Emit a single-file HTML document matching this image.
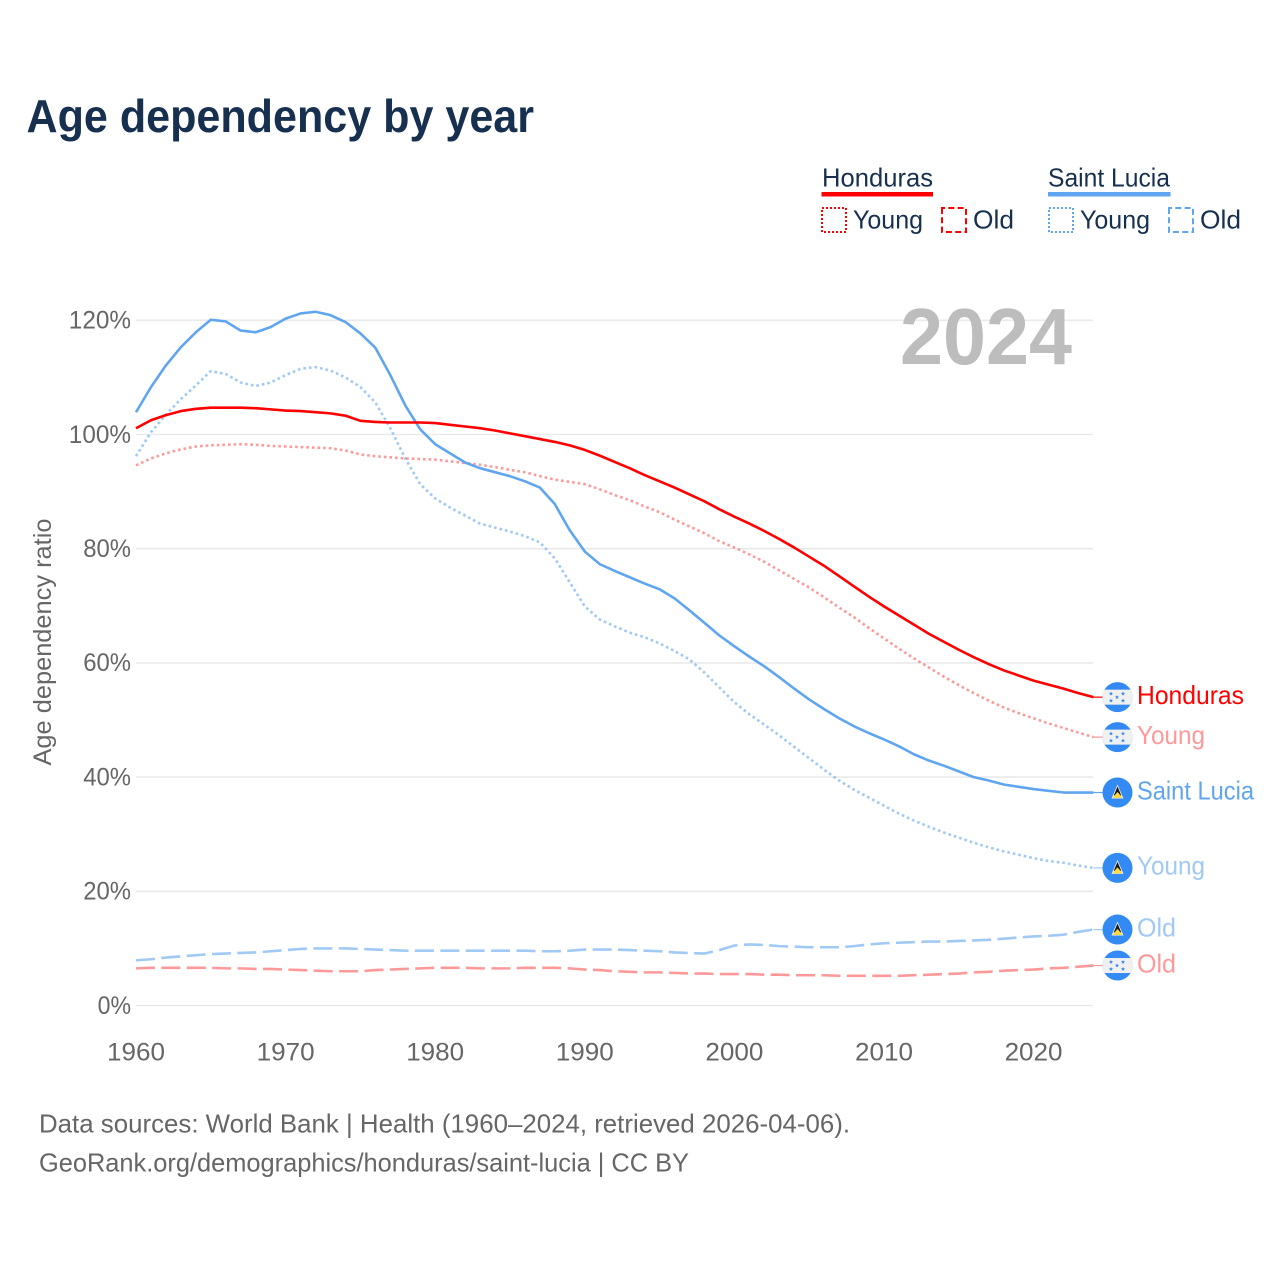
<!DOCTYPE html>
<html lang="en">
<head>
<meta charset="utf-8">
<title>Age dependency by year</title>
<style>
html,body{margin:0;padding:0;background:#fff}
svg{display:block}
text{font-family:"Liberation Sans",sans-serif}
</style>
</head>
<body>
<svg id="chart" xmlns="http://www.w3.org/2000/svg" width="1280" height="1280" viewBox="0 0 1280 1280">
  <rect width="1280" height="1280" fill="#fff"/>
  <text x="26.500" y="132" font-size="46" font-weight="bold" fill="#17304f" textLength="507.500" lengthAdjust="spacingAndGlyphs">Age dependency by year</text>

  <g>
    <g>
      <text x="822" y="186.500" font-size="26" fill="#17304f" textLength="111" lengthAdjust="spacingAndGlyphs">Honduras</text>
      <rect x="821.500" y="192" width="111.500" height="4.5" fill="#ff0000"/>
      <rect x="822" y="208" width="24" height="24" fill="none" stroke="#ff0000" stroke-width="2" stroke-dasharray="2 2"/>
      <text x="853" y="228.500" font-size="26" fill="#17304f" textLength="70" lengthAdjust="spacingAndGlyphs">Young</text>
      <rect x="942" y="208" width="24" height="24" fill="none" stroke="#ff0000" stroke-width="2" stroke-dasharray="6 3.3" stroke-dashoffset="3"/>
      <text x="973" y="228.500" font-size="26" fill="#17304f" textLength="41" lengthAdjust="spacingAndGlyphs">Old</text>
    </g>
    <g>
      <text x="1048" y="186.500" font-size="26" fill="#17304f" textLength="122" lengthAdjust="spacingAndGlyphs">Saint Lucia</text>
      <rect x="1048" y="192" width="122.500" height="4.5" fill="#60a5ef"/>
      <rect x="1049" y="208" width="24" height="24" fill="none" stroke="#60a5ef" stroke-width="2" stroke-dasharray="2 2"/>
      <text x="1080" y="228.500" font-size="26" fill="#17304f" textLength="70" lengthAdjust="spacingAndGlyphs">Young</text>
      <rect x="1169" y="208" width="24" height="24" fill="none" stroke="#60a5ef" stroke-width="2" stroke-dasharray="6 3.3" stroke-dashoffset="3"/>
      <text x="1200" y="228.500" font-size="26" fill="#17304f" textLength="41" lengthAdjust="spacingAndGlyphs">Old</text>
    </g>
  </g>

  <g id="grid"></g>
  <g id="yTicks"></g>
  <g id="xTicks"></g>

  <text x="986" y="364" font-size="80" font-weight="bold" fill="#bdbdbd" text-anchor="middle" textLength="172" lengthAdjust="spacingAndGlyphs">2024</text>
  <text transform="translate(51 642) rotate(-90)" font-size="25" fill="#666" text-anchor="middle" textLength="247" lengthAdjust="spacingAndGlyphs">Age dependency ratio</text>

  <g id="series"></g>
  <g id="endLabels"></g>

  <text x="39" y="1132.500" font-size="26" fill="#666" textLength="811" lengthAdjust="spacingAndGlyphs">Data sources: World Bank | Health (1960–2024, retrieved 2026-04-06).</text>
  <text x="39" y="1171.500" font-size="26" fill="#666" textLength="650" lengthAdjust="spacingAndGlyphs">GeoRank.org/demographics/honduras/saint-lucia | CC BY</text>
</svg>
<script>
const firstYear = 1960;
const yTickValues = [0, 20, 40, 60, 80, 100, 120];
const xTickValues = [1960, 1970, 1980, 1990, 2000, 2010, 2020];

const hondurasTotal = [
  101.1,102.5,103.4,104.1,104.5,104.7,104.7,104.7,104.6,104.4,
  104.2,104.1,103.9,103.7,103.3,102.4,102.2,102.1,102.1,102.1,
  102.0,101.7,101.4,101.1,100.7,100.2,99.7,99.2,98.7,98.1,
  97.3,96.3,95.2,94.1,92.9,91.8,90.7,89.5,88.3,86.9,
  85.6,84.4,83.1,81.7,80.2,78.6,77.0,75.2,73.4,71.6,
  69.9,68.3,66.7,65.1,63.7,62.3,61.0,59.8,58.7,57.8,
  56.9,56.2,55.5,54.7,54.0
];
const hondurasYoung = [
  94.6,95.8,96.7,97.4,97.9,98.1,98.2,98.3,98.2,98.0,
  97.9,97.8,97.7,97.6,97.2,96.5,96.2,96.0,95.8,95.7,
  95.6,95.3,95.0,94.7,94.3,93.8,93.4,92.7,92.1,91.7,
  91.3,90.4,89.4,88.5,87.4,86.4,85.1,83.9,82.7,81.3,
  80.2,79.0,77.7,76.2,74.7,73.2,71.5,69.7,68.0,66.1,
  64.3,62.5,60.8,59.2,57.6,56.1,54.7,53.4,52.2,51.2,
  50.3,49.4,48.6,47.8,47.0
];
const hondurasOld = [
  6.5,6.6,6.6,6.6,6.6,6.6,6.5,6.5,6.4,6.4,
  6.3,6.2,6.1,6.0,6.0,6.0,6.2,6.3,6.4,6.5,
  6.6,6.6,6.6,6.5,6.5,6.5,6.6,6.6,6.6,6.5,
  6.3,6.2,6.0,5.9,5.8,5.8,5.7,5.6,5.6,5.5,
  5.5,5.5,5.4,5.4,5.3,5.3,5.3,5.2,5.2,5.2,
  5.2,5.2,5.3,5.4,5.5,5.6,5.8,5.9,6.1,6.2,
  6.3,6.5,6.6,6.8,7.0
];
const saintLuciaTotal = [
  103.9,108.3,112.1,115.3,117.9,120.1,119.8,118.2,117.9,118.8,
  120.3,121.2,121.5,120.9,119.7,117.7,115.2,110.4,105.1,100.9,
  98.3,96.7,95.1,94.1,93.4,92.7,91.8,90.7,87.8,83.2,
  79.5,77.3,76.1,75.0,73.9,72.9,71.3,69.2,67.0,64.8,
  62.9,61.1,59.4,57.5,55.5,53.6,51.9,50.3,48.9,47.7,
  46.6,45.4,44.0,42.9,42.0,41.0,40.0,39.4,38.7,38.3,
  37.9,37.6,37.3,37.3,37.3
];
const saintLuciaYoung = [
  96.2,100.4,103.5,106.2,108.6,111.1,110.6,109.1,108.5,109.1,
  110.4,111.5,111.8,111.2,110.0,108.3,105.6,101.1,95.8,91.3,
  88.8,87.2,85.8,84.4,83.7,83.0,82.2,81.1,78.3,74.1,
  69.9,67.6,66.4,65.3,64.5,63.4,62.1,60.6,58.3,55.7,
  53.1,51.0,49.2,47.3,45.3,43.3,41.3,39.4,37.8,36.4,
  35.0,33.6,32.4,31.3,30.3,29.4,28.5,27.7,27.0,26.4,
  25.8,25.3,25.0,24.5,24.1
];
const saintLuciaOld = [
  7.9,8.1,8.4,8.6,8.8,9.0,9.1,9.2,9.3,9.5,
  9.7,9.9,10.0,10.0,10.0,9.9,9.8,9.7,9.6,9.6,
  9.6,9.6,9.6,9.6,9.6,9.6,9.6,9.5,9.5,9.6,
  9.8,9.8,9.8,9.7,9.6,9.5,9.3,9.2,9.1,9.7,
  10.5,10.7,10.6,10.4,10.3,10.2,10.2,10.2,10.4,10.7,
  10.9,11.0,11.1,11.2,11.2,11.3,11.4,11.5,11.7,11.9,
  12.1,12.2,12.4,12.9,13.3
];

const NS = 'http://www.w3.org/2000/svg';
function xScale(year) { return 136 + (year - 1960) * (957.4 / 64); }
function yScale(pct) { return 1005.5 - pct * (685.2 / 120); }
function make(tag, attrs, parent) {
  const el = document.createElementNS(NS, tag);
  for (const k in attrs) el.setAttribute(k, attrs[k]);
  parent.appendChild(el);
  return el;
}
const gridG = document.getElementById('grid');
const yG = document.getElementById('yTicks');
const xG = document.getElementById('xTicks');
const seriesG = document.getElementById('series');
const labelG = document.getElementById('endLabels');

yTickValues.forEach(function (v) {
  const line = make('line', {x1: 136, x2: 1093, y1: yScale(v), y2: yScale(v), stroke: '#eaeaea', 'stroke-width': 1.6}, gridG);
  
  
  const t = make('text', {x: 131, y: yScale(v) + 8.3, 'font-size': 25, fill: '#666', 'text-anchor': 'end', textLength: String(v).length * 14.4 + 19, lengthAdjust: 'spacingAndGlyphs'}, yG);
  t.textContent = v + '%';
  
  
});
xTickValues.forEach(function (v) {
  const t = make('text', {x: xScale(v), y: 1060.5, 'font-size': 25, fill: '#666', 'text-anchor': 'middle', textLength: 58, lengthAdjust: 'spacingAndGlyphs'}, xG);
  t.textContent = String(v);
  
  
});

function drawLine(values, color, opacity, width, dash, name) {
  const pts = values.map(function (v, i) { return xScale(firstYear + i).toFixed(2) + ',' + yScale(v).toFixed(2); }).join(' ');
  const attrs = {points: pts, fill: 'none', stroke: color, 'stroke-opacity': opacity, 'stroke-width': width, 'stroke-linejoin': 'round'};
  if (dash) attrs['stroke-dasharray'] = dash;
  const p = make('polyline', attrs, seriesG);
  
  
  const lastY = yScale(values[values.length - 1]);
  const c = make('line', {x1: xScale(firstYear + values.length - 1), x2: 1103, y1: lastY, y2: lastY, stroke: color, 'stroke-opacity': opacity, 'stroke-width': 1.2}, seriesG);
  
  
}
const DOT = '2.6 3';
const DASH = '19 6.4';
drawLine(saintLuciaOld, '#60a5ef', 0.6, 2.6, DASH, 'saint-lucia-old-line');
drawLine(hondurasOld, '#ff0000', 0.4, 2.6, DASH, 'honduras-old-line');
drawLine(saintLuciaYoung, '#60a5ef', 0.6, 2.6, DOT, 'saint-lucia-young-line');
drawLine(hondurasYoung, '#ff0000', 0.4, 2.6, DOT, 'honduras-young-line');
drawLine(saintLuciaTotal, '#60a5ef', 1, 2.6, null, 'saint-lucia-total-line');
drawLine(hondurasTotal, '#ff0000', 1, 2.6, null, 'honduras-total-line');

function star(cx, cy, r) {
  const pts = [];
  for (let i = 0; i < 10; i++) {
    const a = -Math.PI / 2 + i * Math.PI / 5;
    const rad = i % 2 ? r * 0.42 : r;
    pts.push((cx + rad * Math.cos(a)).toFixed(2) + ',' + (cy + rad * Math.sin(a)).toFixed(2));
  }
  return pts.join(' ');
}
let clipCount = 0;
function drawFlag(kind, cy, name) {
  const g = make('g', {transform: 'translate(1117.5 ' + cy + ')'}, labelG);
  
  
  make('circle', {r: 15, fill: '#338af3'}, g);
  if (kind === 'hn') {
    clipCount++;
    const id = 'flagClip' + clipCount;
    const cp = make('clipPath', {id: id}, g);
    make('circle', {r: 15}, cp);
    make('rect', {x: -16, y: -7.5, width: 32, height: 15, fill: '#f0f0f0', 'clip-path': 'url(#' + id + ')'}, g);
    [[-6.5, -3.5], [5.5, -3.5], [-0.5, 0], [-6.5, 3.5], [5.5, 3.5]].forEach(function (s) {
      make('polygon', {points: star(s[0], s[1], 2.2), fill: '#338af3'}, g);
    });
  } else {
    make('polygon', {points: '0,-8 6,6 -6,6', fill: '#f0f0f0'}, g);
    make('polygon', {points: '0,-6 3.8,3 -3.8,3', fill: '#1a1a1a'}, g);
    make('polygon', {points: '0,-0.5 5.2,5.5 -5.2,5.5', fill: '#ffda44'}, g);
  }
}
function drawEndLabel(values, kind, text, width, color, name) {
  const y = yScale(values[values.length - 1]);
  drawFlag(kind, y, name + '-flag');
  const t = make('text', {x: 1137, y: y + 6.8, 'font-size': 26, fill: color, textLength: width, lengthAdjust: 'spacingAndGlyphs'}, labelG);
  t.textContent = text;
  
  
}
drawEndLabel(hondurasTotal, 'hn', 'Honduras', 107, '#ff0000', 'end-honduras');
drawEndLabel(hondurasYoung, 'hn', 'Young', 68, '#ff9999', 'end-honduras-young');
drawEndLabel(saintLuciaTotal, 'lc', 'Saint Lucia', 117, '#60a5ef', 'end-saint-lucia');
drawEndLabel(saintLuciaYoung, 'lc', 'Young', 68, '#a0c9f5', 'end-saint-lucia-young');
drawEndLabel(saintLuciaOld, 'lc', 'Old', 39, '#a0c9f5', 'end-saint-lucia-old');
drawEndLabel(hondurasOld, 'hn', 'Old', 39, '#ff9999', 'end-honduras-old');
</script>
</body>
</html>
